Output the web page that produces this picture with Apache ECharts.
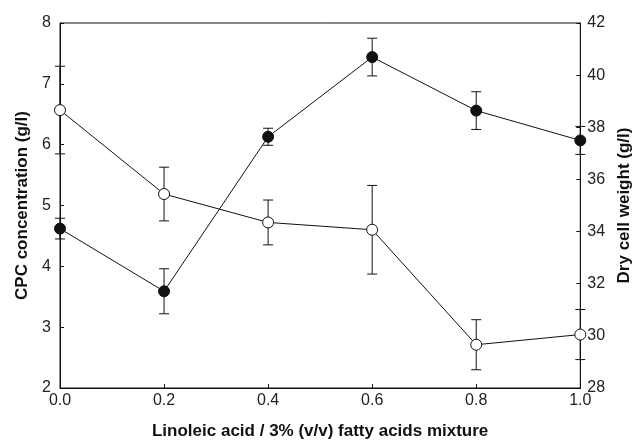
<!DOCTYPE html>
<html>
<head>
<meta charset="utf-8">
<script src="https://cdn.jsdelivr.net/npm/echarts@6/dist/echarts.min.js"></script>
<style>html,body{margin:0;padding:0;background:#fff}#c{width:641px;height:445px}</style>
</head>
<body>
<div id="c"></div>
<script>
// Data
const xValues = [0.0, 0.2, 0.4, 0.6, 0.8, 1.0];
const xTickLabels = ['0.0', '0.2', '0.4', '0.6', '0.8', '1.0'];
// CPC concentration (g/l) - filled circles, left axis
const cpc = [4.62, 3.59, 6.13, 7.44, 6.56, 6.07];
const cpcErr = [0.17, 0.37, 0.14, 0.31, 0.31, 0.23];
// Dry cell weight (g/l) - open circles, right axis
const dcw = [38.66, 35.44, 34.35, 34.07, 29.66, 30.05];
const dcwErr = [1.68, 1.03, 0.86, 1.70, 0.96, 0.96];

const FONT = '"Liberation Sans", Arial, sans-serif';
const chart = echarts.init(document.getElementById('c'), null, {renderer: 'canvas'});

function errData(vals, errs) {
  return xValues.map((x, i) => [x, vals[i] - errs[i], vals[i] + errs[i]]);
}
function errRender(params, api) {
  const x = api.value(0);
  const lo = api.coord([x, api.value(1)]);
  const hi = api.coord([x, api.value(2)]);
  const w = 5;
  const st = {stroke: '#111', lineWidth: 1};
  return {
    type: 'group',
    children: [
      {type: 'line', shape: {x1: lo[0], y1: lo[1], x2: hi[0], y2: hi[1]}, style: st},
      {type: 'line', shape: {x1: lo[0] - w, y1: lo[1], x2: lo[0] + w, y2: lo[1]}, style: st},
      {type: 'line', shape: {x1: hi[0] - w, y1: hi[1], x2: hi[0] + w, y2: hi[1]}, style: st}
    ]
  };
}

const axisCommon = {
  axisLine: {show: true, lineStyle: {color: '#111', width: 1}},
  axisTick: {show: true, inside: true, length: 4, lineStyle: {color: '#111'}},
  splitLine: {show: false},
  axisLabel: {color: '#222', fontFamily: FONT, fontSize: 16},
  nameTextStyle: {color: '#111', fontFamily: FONT, fontSize: 17, fontWeight: 'bold'}
};

chart.setOption({
  animation: false,
  backgroundColor: '#fff',
  grid: {left: 60, right: 58, top: 23, bottom: 53, show: true, borderColor: '#111', borderWidth: 1},
  xAxis: Object.assign({}, axisCommon, {
    type: 'value', min: 0, max: 1, interval: 0.2,
    name: 'Linoleic acid / 3% (v/v) fatty acids mixture',
    nameLocation: 'middle', nameGap: 35,
    axisLabel: Object.assign({}, axisCommon.axisLabel, {
      margin: 5,
      formatter: v => xTickLabels[Math.round(v / 0.2)]
    })
  }),
  yAxis: [
    Object.assign({}, axisCommon, {
      type: 'value', min: 2, max: 8, interval: 1, position: 'left',
      name: 'CPC concentration (g/l)', nameLocation: 'middle', nameGap: 28, nameRotate: 90,
      axisLabel: Object.assign({}, axisCommon.axisLabel, {margin: 9})
    }),
    Object.assign({}, axisCommon, {
      type: 'value', min: 28, max: 42, interval: 2, position: 'right',
      name: 'Dry cell weight (g/l)', nameLocation: 'middle', nameGap: 28, nameRotate: 90,
      axisLabel: Object.assign({}, axisCommon.axisLabel, {margin: 7})
    })
  ],
  series: [
    {type: 'custom', yAxisIndex: 0, data: errData(cpc, cpcErr), renderItem: errRender, z: 2, silent: true},
    {type: 'custom', yAxisIndex: 1, data: errData(dcw, dcwErr), renderItem: errRender, z: 2, silent: true},
    {
      type: 'line', yAxisIndex: 0, data: xValues.map((x, i) => [x, cpc[i]]),
      symbol: 'circle', symbolSize: 11, z: 5,
      lineStyle: {color: '#111', width: 1},
      itemStyle: {color: '#111', borderColor: '#111', borderWidth: 1}
    },
    {
      type: 'line', yAxisIndex: 1, data: xValues.map((x, i) => [x, dcw[i]]),
      symbol: 'circle', symbolSize: 11, z: 5,
      lineStyle: {color: '#111', width: 1},
      itemStyle: {color: '#fff', borderColor: '#111', borderWidth: 1}
    }
  ]
});
</script>
</body>
</html>
